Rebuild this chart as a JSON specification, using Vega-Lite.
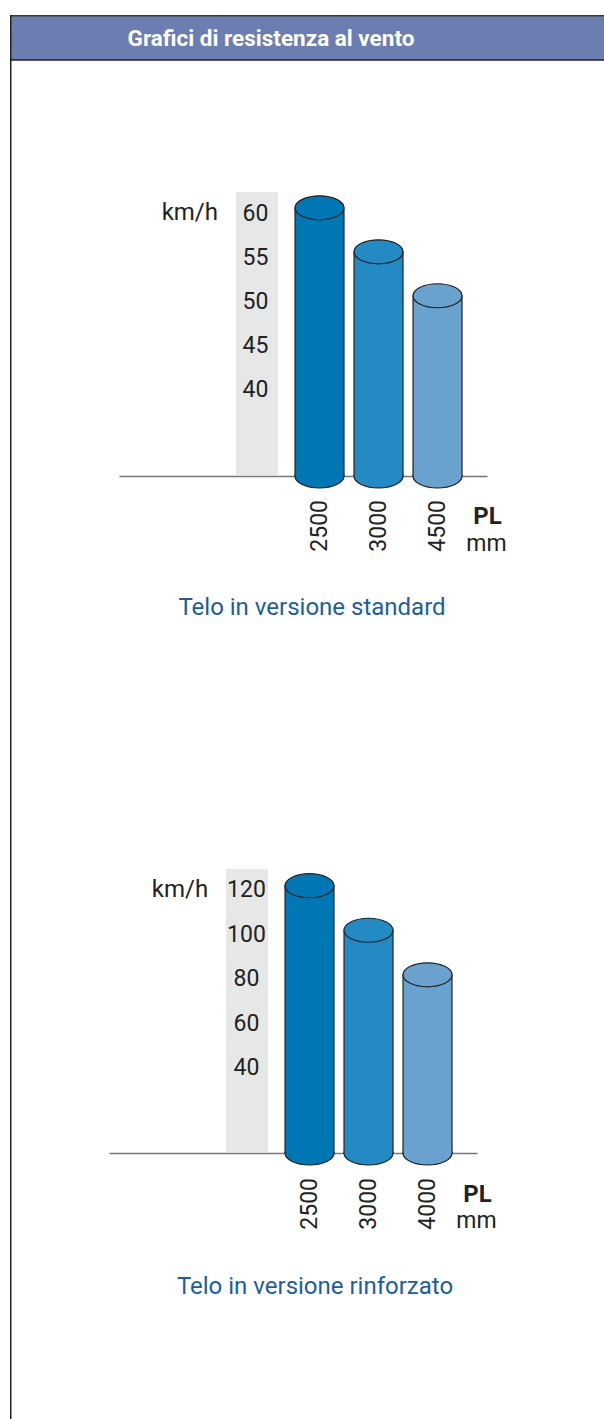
{
  "$schema": "https://vega.github.io/schema/vega-lite/v6.json",
  "padding": {"left": 9, "top": 14, "right": 0, "bottom": 0},
  "spacing": 0,
  "bounds": "flush",
  "resolve": {"scale": {"color": "independent"}},
  "config": {"view": {"stroke": null}, "font": "Roboto"},
  "vconcat": [
    {
      "width": 595,
      "height": 45,
      "view": {"fill": "#6b7db1", "stroke": null},
      "data": {"values": [{"title": "Grafici di resistenza al vento"}]},
      "layer": [
        {"mark": {"type": "text", "font": "Roboto", "fontWeight": "bold", "fontSize": 22.5, "color": "#ffffff", "align": "center", "baseline": "alphabetic", "dx": -36.5, "dy": 8.2}, "encoding": {"text": {"field": "title"}}},
        {"mark": {"type": "rule", "color": "#3a3a3a", "strokeWidth": 1.5}, "encoding": {"y": {"value": 0.75}}},
        {"mark": {"type": "rule", "color": "#222222", "strokeWidth": 1.5}, "encoding": {"y": {"value": 45}}},
        {"mark": {"type": "rule", "color": "#222222", "strokeWidth": 1.5}, "encoding": {"x": {"value": 0.75}}}
      ]
    },
    {
      "width": 595,
      "height": 677,
      "data": {"values": [{"pl": "2500", "v": 60}, {"pl": "3000", "v": 55}, {"pl": "4500", "v": 50}]},
      "layer": [
        {"mark": {"type": "bar", "color": "#e6e8e8", "width": {"band": 0.857}, "xOffset": -3.5}, "encoding": {"x": {"datum": " "}, "y": {"datum": 61.8}, "y2": {"datum": 29.6}}},
        {
          "mark": {"type": "bar", "stroke": "#222222", "strokeWidth": 1.2, "opacity": 1},
          "encoding": {
            "x": {"field": "pl", "type": "nominal",
              "scale": {"type": "band", "domain": ["", " ", "2500", "3000", "4500"], "range": [109, 477], "paddingInner": 0.17, "paddingOuter": 0.7033, "align": 0.6988},
              "axis": {"orient": "bottom", "offset": -261, "values": ["2500", "3000", "4500"], "labelAngle": -90, "labelAlign": "right", "labelBaseline": "middle", "labelPadding": 23.5, "labelFontSize": 23, "labelFont": "Roboto", "labelColor": "#222222", "ticks": false, "tickSize": 0, "domain": true, "domainColor": "#777777", "domainWidth": 1.5, "grid": false, "title": null, "zindex": 0}},
            "y": {"field": "v", "type": "quantitative",
              "scale": {"domain": [29.5, 61.8], "range": [416, 132], "zero": false, "nice": false},
              "axis": {"orient": "left", "offset": -245, "values": [40, 45, 50, 55, 60], "domain": false, "ticks": false, "tickSize": 0, "grid": false, "labelPadding": 0, "labelAlign": "center", "labelBaseline": "middle", "labelOffset": 6, "labelFontSize": 23, "labelFont": "Roboto", "labelColor": "#222222", "title": "km/h", "titleAngle": 0, "titleAlign": "right", "titleBaseline": "alphabetic", "titleX": -37.5, "titleY": 159, "titleFontSize": 24, "titleFont": "Roboto", "titleFontWeight": "normal", "titleColor": "#222222", "zindex": 1}},
            "y2": {"datum": 29.5},
            "color": {"field": "pl", "type": "nominal", "scale": {"domain": ["2500", "3000", "4500"], "range": ["#0077b5", "#238ac4", "#6aa2cf"]}, "legend": null}
          }
        },
        {
          "mark": {"type": "point", "shape": "M-1,-0.06L-1,0C-1,0.2706,-0.5523,0.49,0,0.49C0.5523,0.49,1,0.2706,1,0L1,-0.06", "size": 2401, "filled": true, "opacity": 1, "stroke": "#222222", "strokeWidth": 1.2},
          "encoding": {"x": {"field": "pl", "type": "nominal"}, "y": {"datum": 29.5}, "color": {"field": "pl", "type": "nominal"}}
        },
        {
          "mark": {"type": "point", "shape": "M-1,0C-1,-0.2706,-0.5523,-0.49,0,-0.49C0.5523,-0.49,1,-0.2706,1,0C1,0.2706,0.5523,0.49,0,0.49C-0.5523,0.49,-1,0.2706,-1,0Z", "size": 2401, "filled": true, "opacity": 1, "stroke": "#222222", "strokeWidth": 1.2},
          "encoding": {"x": {"field": "pl", "type": "nominal"}, "y": {"field": "v", "type": "quantitative"}, "color": {"field": "pl", "type": "nominal"}}
        },
        {
          "data": {"values": [{"u": "PL", "m": "mm"}]},
          "mark": {"type": "text", "font": "Roboto", "fontWeight": "bold", "fontSize": 24, "color": "#222222", "align": "center", "baseline": "alphabetic", "dx": 50, "dy": 48.3},
          "encoding": {"x": {"datum": "4500"}, "y": {"datum": 29.5}, "text": {"field": "u"}}
        },
        {
          "data": {"values": [{"u": "PL", "m": "mm"}]},
          "mark": {"type": "text", "font": "Roboto", "fontSize": 23, "color": "#222222", "align": "center", "baseline": "alphabetic", "dx": 49, "dy": 75},
          "encoding": {"x": {"datum": "4500"}, "y": {"datum": 29.5}, "text": {"field": "m"}}
        },
        {
          "data": {"values": [{"c": "Telo in versione standard"}]},
          "mark": {"type": "text", "font": "Roboto", "fontSize": 24, "color": "#1b5e9f", "align": "center", "baseline": "alphabetic", "dx": 4.5, "dy": 216.8},
          "encoding": {"text": {"field": "c"}}
        },
        {
          "data": {"values": [{"b": 1}]},
          "mark": {"type": "rule", "color": "#222222", "strokeWidth": 1.5},
          "encoding": {"x": {"value": 0.75}}
        }
      ]
    },
    {
      "width": 595,
      "height": 683,
      "data": {"values": [{"pl": "2500", "v": 120}, {"pl": "3000", "v": 100}, {"pl": "4000", "v": 80}]},
      "layer": [
        {"mark": {"type": "bar", "color": "#e6e8e8", "width": {"band": 0.857}, "xOffset": -3.5}, "encoding": {"x": {"datum": " "}, "y": {"datum": 127.5}, "y2": {"datum": 0.4}}},
        {
          "mark": {"type": "bar", "stroke": "#222222", "strokeWidth": 1.2, "opacity": 1},
          "encoding": {
            "x": {"field": "pl", "type": "nominal",
              "scale": {"type": "band", "domain": ["", " ", "2500", "3000", "4000"], "range": [99, 467], "paddingInner": 0.17, "paddingOuter": 0.7033, "align": 0.6988},
              "axis": {"orient": "bottom", "offset": -267, "values": ["2500", "3000", "4000"], "labelAngle": -90, "labelAlign": "right", "labelBaseline": "middle", "labelPadding": 24.5, "labelFontSize": 23, "labelFont": "Roboto", "labelColor": "#222222", "ticks": false, "tickSize": 0, "domain": true, "domainColor": "#777777", "domainWidth": 1.5, "grid": false, "title": null, "zindex": 0}},
            "y": {"field": "v", "type": "quantitative",
              "scale": {"domain": [0, 127.5], "range": [416, 132], "zero": false, "nice": false},
              "axis": {"orient": "left", "offset": -236, "values": [40, 60, 80, 100, 120], "domain": false, "ticks": false, "tickSize": 0, "grid": false, "labelPadding": 0, "labelAlign": "center", "labelBaseline": "middle", "labelOffset": 4, "labelFontSize": 23, "labelFont": "Roboto", "labelColor": "#222222", "title": "km/h", "titleAngle": 0, "titleAlign": "right", "titleBaseline": "alphabetic", "titleX": -38.3, "titleY": 159, "titleFontSize": 24, "titleFont": "Roboto", "titleFontWeight": "normal", "titleColor": "#222222", "zindex": 1}},
            "y2": {"datum": 0},
            "color": {"field": "pl", "type": "nominal", "scale": {"domain": ["2500", "3000", "4000"], "range": ["#0077b5", "#238ac4", "#6aa2cf"]}, "legend": null}
          }
        },
        {
          "mark": {"type": "point", "shape": "M-1,-0.06L-1,0C-1,0.2706,-0.5523,0.49,0,0.49C0.5523,0.49,1,0.2706,1,0L1,-0.06", "size": 2401, "filled": true, "opacity": 1, "stroke": "#222222", "strokeWidth": 1.2},
          "encoding": {"x": {"field": "pl", "type": "nominal"}, "y": {"datum": 0}, "color": {"field": "pl", "type": "nominal"}}
        },
        {
          "mark": {"type": "point", "shape": "M-1,0C-1,-0.2706,-0.5523,-0.49,0,-0.49C0.5523,-0.49,1,-0.2706,1,0C1,0.2706,0.5523,0.49,0,0.49C-0.5523,0.49,-1,0.2706,-1,0Z", "size": 2401, "filled": true, "opacity": 1, "stroke": "#222222", "strokeWidth": 1.2},
          "encoding": {"x": {"field": "pl", "type": "nominal"}, "y": {"field": "v", "type": "quantitative"}, "color": {"field": "pl", "type": "nominal"}}
        },
        {
          "data": {"values": [{"u": "PL", "m": "mm"}]},
          "mark": {"type": "text", "font": "Roboto", "fontWeight": "bold", "fontSize": 24, "color": "#222222", "align": "center", "baseline": "alphabetic", "dx": 50, "dy": 49},
          "encoding": {"x": {"datum": "4000"}, "y": {"datum": 0}, "text": {"field": "u"}}
        },
        {
          "data": {"values": [{"u": "PL", "m": "mm"}]},
          "mark": {"type": "text", "font": "Roboto", "fontSize": 23, "color": "#222222", "align": "center", "baseline": "alphabetic", "dx": 49, "dy": 74.7},
          "encoding": {"x": {"datum": "4000"}, "y": {"datum": 0}, "text": {"field": "m"}}
        },
        {
          "data": {"values": [{"c": "Telo in versione rinforzato"}]},
          "mark": {"type": "text", "font": "Roboto", "fontSize": 24, "color": "#1b5e9f", "align": "center", "baseline": "alphabetic", "dx": 7.5, "dy": 215.8},
          "encoding": {"text": {"field": "c"}}
        },
        {
          "data": {"values": [{"b": 1}]},
          "mark": {"type": "rule", "color": "#222222", "strokeWidth": 1.5},
          "encoding": {"x": {"value": 0.75}}
        }
      ]
    }
  ]
}
